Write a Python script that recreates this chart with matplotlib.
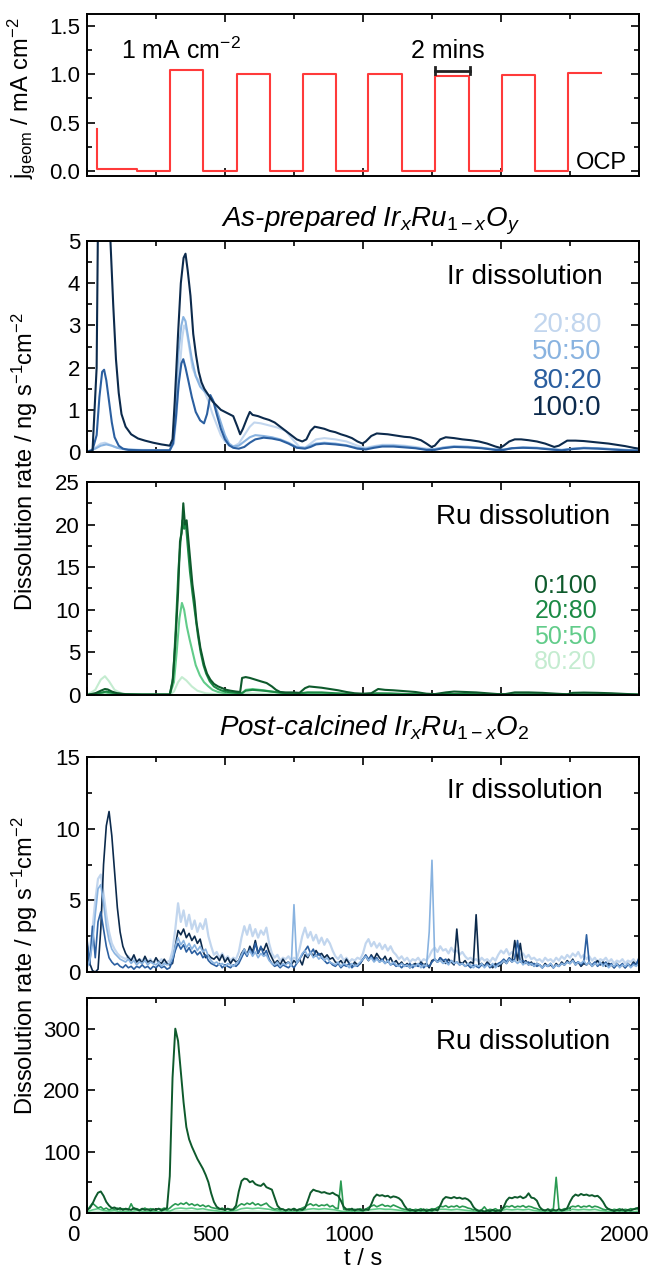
import numpy as np
import matplotlib
matplotlib.use("Agg")
import matplotlib.pyplot as plt
import matplotlib.transforms as mtransforms
from matplotlib.ticker import MultipleLocator, FormatStrFormatter

plt.rcParams['font.family'] = 'Liberation Sans'
plt.rcParams['mathtext.fontset'] = 'custom'
plt.rcParams['mathtext.rm'] = 'Liberation Sans'
plt.rcParams['mathtext.it'] = 'Liberation Sans:italic'

# ---------------- data ----------------
# current protocol (top panel)
current_t = [35, 35, 183, 299, 421, 542, 662, 781, 902, 1020, 1142, 1260, 1385, 1503, 1624, 1743, 1864]
current_j = [0.43, 0.02, 0.0, 1.04, 0.0, 1.0, 0.0, 1.0, 0.0, 1.0, 0.0, 0.98, 0.0, 0.99, 0.0, 1.01, 1.01]
scale_bar_t = [1260, 1388]

# as-prepared, Ir dissolution (ng s-1 cm-2)
ap_ir_100_t = [0, 20, 35, 42, 50, 85, 95, 105, 115, 125, 140, 160, 185, 210, 240, 270, 300, 310, 318, 330,
               340, 350, 357, 365, 375, 385, 395, 405, 415, 425, 440, 455, 470, 485, 500, 515, 530, 545, 555, 565,
               580, 590, 600, 620, 640, 660, 680, 700, 720, 740, 760, 780, 795, 810, 825, 840, 860, 880, 900, 920,
               940, 960, 980, 998, 1010, 1030, 1050, 1070, 1090, 1110, 1130, 1150, 1170, 1190, 1210, 1230, 1248, 1260, 1280, 1300,
               1330, 1360, 1390, 1420, 1450, 1480, 1497, 1510, 1530, 1550, 1573, 1600, 1630, 1660, 1693, 1710, 1740, 1770, 1800, 1830,
               1860, 1890, 1920, 1950, 1980, 2000]
ap_ir_100 = [0.0, 0.02, 2.0, 7.0, 9.0, 5.0, 3.5, 2.2, 1.4, 0.9, 0.6, 0.42, 0.32, 0.27, 0.22, 0.18, 0.15, 0.3, 1.2, 2.8,
             4.0, 4.6, 4.7, 4.3, 3.7, 2.8, 2.3, 1.9, 1.65, 1.5, 1.35, 1.2, 1.1, 1.0, 0.95, 0.9, 0.85, 0.6, 0.42, 0.55,
             0.8, 0.95, 0.88, 0.85, 0.8, 0.76, 0.7, 0.6, 0.5, 0.4, 0.3, 0.25, 0.3, 0.5, 0.6, 0.58, 0.55, 0.5, 0.47, 0.42,
             0.38, 0.33, 0.25, 0.2, 0.25, 0.38, 0.44, 0.43, 0.42, 0.4, 0.38, 0.36, 0.35, 0.32, 0.28, 0.2, 0.12, 0.15, 0.3, 0.35,
             0.33, 0.3, 0.28, 0.25, 0.2, 0.13, 0.1, 0.15, 0.25, 0.3, 0.3, 0.28, 0.25, 0.2, 0.12, 0.15, 0.27, 0.27, 0.26, 0.24,
             0.22, 0.2, 0.17, 0.14, 0.1, 0.08]
ap_ir_80_t = [0, 20, 35, 45, 55, 62, 70, 80, 90, 100, 115, 130, 150, 200, 250, 300, 312, 322, 332, 342,
              349, 357, 367, 380, 394, 410, 424, 435, 447, 458, 470, 485, 500, 515, 530, 550, 570, 590, 610, 640,
              670, 700, 730, 760, 790, 810, 830, 860, 900, 940, 980, 1010, 1040, 1070, 1110, 1150, 1190, 1230, 1260, 1290,
              1330, 1380, 1430, 1480, 1510, 1540, 1580, 1630, 1680, 1720, 1760, 1800, 1850, 1900, 1950, 2000]
ap_ir_80 = [0.0, 0.05, 0.4, 1.3, 1.9, 1.95, 1.7, 1.2, 0.7, 0.35, 0.15, 0.08, 0.05, 0.04, 0.04, 0.04, 0.2, 0.8, 1.6, 2.1,
            2.2, 2.0, 1.7, 1.3, 0.95, 0.75, 0.68, 0.9, 1.35, 1.2, 0.9, 0.55, 0.3, 0.16, 0.1, 0.08, 0.12, 0.22, 0.3, 0.34,
            0.32, 0.28, 0.2, 0.1, 0.08, 0.12, 0.18, 0.2, 0.18, 0.15, 0.08, 0.06, 0.1, 0.13, 0.13, 0.11, 0.09, 0.05, 0.05, 0.09,
            0.12, 0.11, 0.09, 0.05, 0.05, 0.09, 0.1, 0.09, 0.06, 0.04, 0.07, 0.09, 0.08, 0.06, 0.04, 0.03]
ap_ir_50_t = [0, 30, 50, 70, 90, 110, 140, 200, 300, 312, 322, 332, 342, 349, 357, 367, 380, 394, 410, 424,
              440, 455, 470, 485, 500, 515, 530, 550, 570, 590, 610, 640, 670, 700, 730, 760, 790, 810, 830, 860,
              900, 940, 980, 1010, 1040, 1070, 1110, 1150, 1190, 1230, 1260, 1290, 1330, 1380, 1430, 1480, 1510, 1540, 1580, 1630,
              1680, 1720, 1760, 1800, 1850, 1900, 1950, 2000]
ap_ir_50 = [0.0, 0.08, 0.15, 0.18, 0.15, 0.1, 0.06, 0.04, 0.04, 0.3, 1.3, 2.4, 3.0, 3.2, 3.1, 2.7, 2.2, 1.8, 1.55, 1.45,
            1.35, 1.25, 1.0, 0.7, 0.4, 0.2, 0.13, 0.15, 0.25, 0.35, 0.4, 0.38, 0.35, 0.3, 0.22, 0.12, 0.1, 0.15, 0.2, 0.22,
            0.2, 0.16, 0.1, 0.08, 0.12, 0.15, 0.15, 0.13, 0.1, 0.06, 0.07, 0.1, 0.13, 0.12, 0.1, 0.06, 0.06, 0.09, 0.11, 0.1,
            0.07, 0.05, 0.08, 0.1, 0.09, 0.07, 0.05, 0.04]
ap_ir_20_t = [0, 30, 50, 65, 80, 100, 130, 200, 300, 315, 325, 335, 345, 352, 360, 370, 382, 394, 410, 425,
              440, 455, 470, 485, 500, 515, 530, 550, 570, 590, 606, 630, 660, 690, 720, 745, 770, 790, 810, 830,
              860, 900, 940, 980, 1010, 1040, 1070, 1110, 1150, 1190, 1230, 1260, 1290, 1330, 1380, 1430, 1480, 1510, 1540, 1580,
              1630, 1680, 1720, 1760, 1800, 1850, 1900, 1950, 2000]
ap_ir_20 = [0.0, 0.1, 0.2, 0.22, 0.18, 0.12, 0.07, 0.05, 0.04, 0.2, 0.9, 1.9, 2.7, 3.0, 2.9, 2.5, 2.0, 1.8, 1.65, 1.45,
            1.2, 0.9, 0.65, 0.4, 0.25, 0.15, 0.13, 0.2, 0.4, 0.6, 0.7, 0.68, 0.63, 0.58, 0.5, 0.3, 0.12, 0.1, 0.2, 0.3,
            0.33, 0.3, 0.25, 0.15, 0.1, 0.14, 0.17, 0.17, 0.15, 0.12, 0.08, 0.07, 0.11, 0.14, 0.13, 0.1, 0.06, 0.06, 0.09, 0.11,
            0.1, 0.07, 0.05, 0.08, 0.1, 0.09, 0.07, 0.05, 0.04]

# as-prepared, Ru dissolution (ng s-1 cm-2)
ap_ru_0_t = [0, 30, 50, 65, 75, 90, 110, 140, 200, 300, 310, 320, 330, 337, 343, 349, 355, 361, 368, 375,
             382, 390, 397, 404, 411, 418, 425, 435, 447, 460, 475, 490, 505, 520, 540, 555, 562, 575, 590, 610,
             630, 651, 670, 685, 700, 720, 745, 770, 790, 805, 820, 850, 880, 910, 940, 970, 1000, 1030, 1055, 1080,
             1110, 1150, 1190, 1230, 1260, 1300, 1330, 1370, 1410, 1450, 1490, 1515, 1550, 1600, 1650, 1700, 1740, 1760, 1800, 1850,
             1900, 1950, 2000]
ap_ru_0 = [0.0, 0.2, 0.5, 0.7, 0.65, 0.4, 0.2, 0.1, 0.05, 0.05, 1.5, 6.0, 12.0, 18.0, 19.0, 22.5, 20.0, 20.5, 18.0, 15.5,
           13.0, 11.0, 8.5, 7.0, 5.5, 4.5, 3.5, 2.5, 1.8, 1.3, 1.0, 0.8, 0.6, 0.5, 0.4, 0.35, 2.0, 2.1, 2.0, 1.8,
           1.6, 1.4, 1.0, 0.6, 0.35, 0.3, 0.3, 0.25, 0.8, 1.0, 0.95, 0.85, 0.7, 0.55, 0.35, 0.2, 0.15, 0.2, 0.7, 0.6,
           0.55, 0.45, 0.35, 0.15, 0.1, 0.3, 0.4, 0.35, 0.3, 0.2, 0.1, 0.1, 0.3, 0.3, 0.25, 0.15, 0.08, 0.25, 0.28, 0.25,
           0.2, 0.12, 0.05]
ap_ru_20_t = [0, 40, 70, 100, 140, 300, 312, 322, 332, 340, 346, 352, 358, 365, 373, 382, 392, 402, 412, 422,
              432, 445, 460, 475, 490, 510, 540, 560, 575, 600, 640, 680, 720, 760, 800, 850, 900, 950, 1000, 1050,
              1100, 1150, 1200, 1250, 1300, 1400, 1500, 1600, 1700, 1800, 1900, 2000]
ap_ru_20 = [0.0, 0.2, 0.4, 0.2, 0.05, 0.05, 2.0, 8.0, 15.0, 18.5, 20.5, 19.5, 20.2, 17.5, 14.5, 12.0, 9.5, 7.0, 5.0, 3.5,
            2.5, 1.6, 1.0, 0.7, 0.5, 0.35, 0.25, 0.2, 0.5, 0.6, 0.5, 0.35, 0.2, 0.15, 0.3, 0.3, 0.2, 0.12, 0.08, 0.2,
            0.18, 0.12, 0.08, 0.05, 0.12, 0.1, 0.05, 0.08, 0.06, 0.06, 0.05, 0.03]
ap_ru_50_t = [0, 40, 65, 90, 120, 200, 300, 315, 325, 335, 344, 352, 362, 372, 383, 394, 409, 424, 440, 455,
              475, 500, 530, 560, 575, 600, 640, 680, 720, 800, 850, 900, 1000, 1100, 1300, 1500, 1700, 2000]
ap_ru_50 = [0.0, 0.15, 0.3, 0.15, 0.05, 0.03, 0.03, 1.5, 5.0, 9.0, 10.8, 10.0, 8.0, 6.5, 5.0, 3.5, 2.3, 1.5, 1.0, 0.6,
            0.35, 0.2, 0.1, 0.1, 0.6, 0.7, 0.55, 0.35, 0.15, 0.25, 0.2, 0.15, 0.1, 0.12, 0.08, 0.06, 0.05, 0.03]
ap_ru_80_t = [0, 30, 50, 65, 80, 100, 130, 200, 300, 315, 330, 344, 360, 380, 400, 430, 470, 520, 580, 640,
              700, 800, 1000, 1500, 2000]
ap_ru_80 = [0.0, 0.6, 1.8, 2.2, 1.6, 0.6, 0.1, 0.02, 0.02, 0.4, 1.5, 2.1, 1.7, 1.0, 0.5, 0.2, 0.08, 0.05, 0.2, 0.15,
            0.05, 0.05, 0.03, 0.02, 0.02]

# post-calcined series, sampled every 10 s (pg s-1 cm-2)
t10 = np.arange(0, 2001, 10)
pc_ir_100 = [2.0, 0.6, 0.1, 0.0, 0.2, 3.0, 7.5, 10.2, 11.2, 9.5,
             7.0, 4.5, 2.8, 1.8, 1.3, 1.0, 0.8, 1.2, 0.7, 0.9,
             0.6, 1.1, 0.7, 0.8, 0.6, 1.0, 0.7, 0.6, 0.9, 0.6,
             0.5, 0.6, 1.8, 2.9, 2.6, 3.0, 2.4, 2.7, 2.2, 2.5,
             2.0, 2.3, 1.5, 1.0, 1.2, 1.0, 0.9, 1.1, 0.8, 1.2,
             0.7, 1.0, 0.6, 0.9, 0.7, 0.8, 1.3, 1.6, 1.2, 1.8,
             1.4, 2.2, 1.3, 1.7, 1.5, 2.0, 1.4, 1.0, 0.6, 0.8,
             0.5, 0.9, 0.6, 0.7, 0.5, 0.8, 0.6, 0.9, 0.5, 1.2,
             1.0, 1.4, 1.1, 1.5, 1.2, 1.3, 1.0, 1.2, 0.9, 1.0,
             0.7, 0.6, 0.8, 0.5, 0.9, 0.6, 0.4, 0.7, 0.5, 0.6,
             0.9, 1.1, 0.8, 1.2, 0.9, 1.3, 1.0, 0.8, 1.1, 0.7,
             1.0, 0.6, 0.8, 0.5, 0.7, 0.4, 0.6, 0.3, 0.5, 0.6,
             0.4, 0.7, 0.5, 0.6, 0.3, 0.8, 0.9, 0.7, 1.0, 0.8,
             0.6, 0.9, 0.7, 0.5, 3.0, 0.7, 0.6, 0.8, 0.5, 0.7,
             0.6, 4.0, 0.5, 0.6, 0.4, 0.7, 0.5, 0.3, 0.6, 0.4,
             0.5, 0.8, 0.6, 0.9, 0.7, 2.2, 0.8, 2.0, 0.6, 0.8,
             0.5, 0.7, 0.4, 0.6, 0.5, 0.3, 0.6, 0.4, 0.5, 0.3,
             0.6, 0.4, 0.7, 0.5, 0.8, 0.6, 0.9, 0.5, 0.7, 0.4,
             0.6, 0.5, 0.7, 0.4, 0.6, 0.8, 0.5, 0.7, 0.4, 0.6,
             0.5, 0.3, 0.6, 0.4, 0.5, 0.3, 0.6, 0.4, 0.7, 0.5,
             0.9]
pc_ir_80 = [2.3, 0.5, 3.2, 1.0, 3.5, 4.2, 3.0, 1.8, 1.0, 0.7,
            0.5, 0.6, 0.4, 0.3, 0.5, 0.3, 0.4, 0.2, 0.4, 0.3,
            0.5, 0.3, 0.4, 0.2, 0.4, 0.3, 0.5, 0.3, 0.4, 0.2,
            0.3, 0.8, 1.5, 2.0, 1.6, 1.9, 1.4, 1.7, 1.3, 1.5,
            1.2, 1.4, 1.0, 1.2, 0.8, 0.6, 0.5, 0.4, 0.6, 0.3,
            0.5, 0.4, 0.3, 0.5, 0.4, 0.6, 1.0, 1.4, 1.1, 1.6,
            1.2, 2.0, 1.3, 1.8, 1.2, 1.5, 0.9, 0.6, 0.4, 0.5,
            0.3, 0.5, 0.4, 0.3, 0.5, 0.3, 0.6, 0.9, 1.2, 1.5,
            1.8, 1.3, 1.6, 1.1, 1.3, 1.0, 0.8, 0.6, 0.7, 0.5,
            0.4, 0.6, 0.3, 0.5, 0.4, 0.6, 0.3, 0.5, 0.4, 0.6,
            0.9, 1.2, 0.9, 1.1, 0.8, 1.0, 0.7, 0.9, 0.6, 0.8,
            0.5, 0.6, 0.4, 0.5, 0.3, 0.5, 0.4, 0.6, 0.3, 0.5,
            0.4, 0.6, 0.3, 0.5, 0.4, 0.7, 0.9, 0.7, 1.0, 0.8,
            0.9, 0.6, 0.8, 0.6, 0.7, 0.5, 0.6, 0.4, 0.5, 0.3,
            0.5, 0.4, 0.3, 0.5, 0.4, 0.6, 0.3, 0.5, 0.4, 0.6,
            0.7, 0.9, 0.7, 1.0, 0.8, 0.9, 2.2, 0.7, 0.8, 0.6,
            0.7, 0.5, 0.6, 0.4, 0.5, 0.3, 0.5, 0.4, 0.6, 0.3,
            0.5, 0.4, 0.6, 0.5, 0.7, 0.6, 0.8, 0.6, 0.7, 0.5,
            0.7, 2.6, 0.6, 0.5, 0.7, 0.4, 0.6, 0.5, 0.7, 0.4,
            0.6, 0.3, 0.5, 0.4, 0.6, 0.3, 0.5, 0.4, 0.6, 0.5,
            1.0]
pc_ir_50 = [0.3, 0.8, 2.0, 4.0, 5.8, 6.1, 4.8, 3.2, 2.2, 1.6,
            1.3, 1.1, 0.9, 0.8, 0.7, 0.9, 0.6, 0.8, 0.5, 0.7,
            0.6, 0.8, 0.5, 0.7, 0.6, 0.5, 0.7, 0.4, 0.6, 0.5,
            0.6, 1.0, 1.8, 2.4, 1.9, 2.2, 1.7, 2.0, 1.6, 1.9,
            1.5, 1.8, 1.4, 1.6, 1.1, 0.8, 0.6, 0.7, 0.5, 0.6,
            0.4, 0.6, 0.5, 0.4, 0.6, 0.8, 1.2, 1.6, 1.2, 1.5,
            1.1, 1.4, 1.0, 1.3, 1.1, 1.2, 0.8, 0.6, 0.5, 0.7,
            0.4, 0.6, 0.5, 0.7, 0.4, 4.7, 0.6, 0.9, 1.3, 1.5,
            1.1, 1.4, 1.0, 1.2, 0.9, 1.1, 0.8, 1.0, 0.7, 0.6,
            0.5, 0.7, 0.4, 0.6, 0.5, 0.3, 0.6, 0.4, 0.5, 0.7,
            0.9, 1.1, 0.8, 1.0, 0.7, 0.9, 0.7, 0.8, 0.6, 0.8,
            0.5, 0.7, 0.5, 0.4, 0.6, 0.4, 0.5, 0.3, 0.5, 0.4,
            0.6, 0.3, 0.5, 0.4, 2.8, 7.8, 0.9, 0.7, 0.8, 0.6,
            0.7, 0.5, 0.8, 0.6, 0.7, 0.5, 0.6, 0.4, 0.6, 0.5,
            0.3, 0.5, 0.4, 0.6, 0.3, 0.5, 0.4, 0.6, 0.3, 0.5,
            0.6, 0.8, 0.6, 0.9, 0.7, 0.8, 0.6, 0.8, 0.5, 0.7,
            0.5, 0.6, 0.4, 0.6, 0.5, 0.3, 0.5, 0.4, 0.6, 0.3,
            0.5, 0.4, 0.6, 0.5, 0.7, 0.6, 0.8, 0.5, 0.7, 0.6,
            0.8, 0.5, 0.7, 0.4, 0.6, 0.5, 0.7, 0.4, 0.6, 0.3,
            0.5, 0.4, 0.6, 0.3, 0.5, 0.4, 0.6, 0.3, 0.5, 0.4,
            0.6]
pc_ir_20 = [0.5, 1.5, 3.0, 5.0, 6.5, 6.8, 5.5, 4.0, 2.8, 2.0,
            1.6, 1.3, 1.1, 1.0, 0.9, 1.1, 0.8, 1.0, 0.7, 0.9,
            0.8, 1.0, 0.7, 0.9, 0.6, 0.8, 0.7, 0.9, 0.6, 0.7,
            0.8, 1.5, 3.0, 4.8, 3.5, 4.3, 3.2, 4.0, 3.0, 3.6,
            2.8, 3.4, 3.0, 3.7, 2.5, 1.8, 1.2, 1.4, 1.0, 1.3,
            0.9, 1.1, 0.8, 1.0, 0.9, 1.4, 2.4, 3.2, 2.6, 3.3,
            2.5, 3.0, 2.4, 2.9, 2.6, 3.1, 2.0, 1.3, 1.0, 1.2,
            0.8, 1.0, 0.9, 1.1, 0.8, 1.0, 0.9, 1.6, 2.5, 3.1,
            2.4, 2.8, 2.2, 2.6, 2.0, 2.4, 1.9, 2.3, 2.0, 1.5,
            1.1, 0.9, 1.2, 0.8, 1.0, 0.7, 0.9, 0.8, 1.0, 0.9,
            1.3, 2.0, 2.3, 1.8, 2.1, 1.7, 2.0, 1.6, 1.9, 1.5,
            1.8, 1.4, 1.2, 0.9, 1.1, 0.8, 1.0, 0.7, 0.9, 0.8,
            1.0, 0.7, 0.9, 0.8, 1.1, 1.5, 1.7, 1.4, 1.8, 1.5,
            1.6, 1.3, 1.7, 1.4, 1.5, 1.2, 1.4, 1.1, 0.9, 1.0,
            0.8, 0.9, 0.7, 1.0, 0.8, 0.9, 0.7, 1.0, 0.8, 1.2,
            1.5, 1.3, 1.6, 1.2, 1.4, 1.1, 1.5, 1.2, 1.3, 1.0,
            1.2, 0.9, 1.0, 0.8, 0.9, 0.7, 1.0, 0.8, 0.9, 0.7,
            1.0, 0.8, 1.1, 0.9, 1.2, 1.0, 1.3, 1.1, 1.4, 1.0,
            1.2, 0.9, 1.1, 0.8, 1.0, 0.7, 0.9, 0.8, 1.0, 0.7,
            0.9, 0.6, 0.8, 0.7, 0.9, 0.6, 0.8, 0.7, 0.9, 0.6,
            0.8]

pc_ru_0 = [5, 8, 15, 25, 33, 35, 28, 18, 12, 8,
           9, 6, 8, 5, 7, 6, 5, 8, 6, 4,
           7, 5, 6, 4, 6, 5, 7, 4, 6, 8,
           60, 220, 300, 280, 230, 180, 140, 120, 108, 98,
           88, 80, 72, 62, 50, 32, 18, 10, 7, 6,
           5, 7, 5, 6, 12, 35, 52, 56, 55, 50,
           52, 47, 45, 44, 48, 42, 40, 38, 25, 12,
           7, 6, 4, 6, 5, 7, 4, 6, 5, 8,
           20, 33, 38, 36, 35, 33, 34, 32, 31, 33,
           30, 28, 20, 10, 6, 5, 7, 4, 6, 5,
           4, 6, 5, 14, 25, 30, 28, 29, 27, 28,
           25, 27, 26, 24, 20, 12, 6, 4, 5, 3,
           5, 4, 6, 3, 5, 4, 6, 4, 12, 22,
           26, 25, 24, 26, 24, 25, 23, 24, 22, 18,
           10, 5, 3, 4, 2, 4, 3, 5, 3, 4,
           3, 10, 20, 25, 24, 26, 25, 27, 24, 26,
           32, 25, 24, 20, 10, 5, 4, 6, 3, 5,
           4, 6, 4, 5, 8, 18, 26, 30, 28, 31,
           29, 30, 28, 29, 27, 28, 24, 18, 10, 6,
           5, 3, 5, 4, 6, 3, 5, 4, 6, 7,
           9]
pc_ru_20 = [3, 10, 16, 12, 8, 10, 6, 8, 5, 7,
            6, 8, 5, 7, 6, 5, 15, 6, 7, 5,
            6, 8, 5, 7, 6, 5, 7, 6, 8, 5,
            8, 12, 15, 13, 16, 14, 17, 13, 15, 12,
            14, 11, 13, 10, 12, 9, 8, 7, 6, 8,
            5, 7, 6, 5, 8, 12, 15, 13, 16, 14,
            17, 13, 15, 12, 14, 16, 11, 8, 6, 7,
            5, 6, 4, 6, 5, 7, 5, 6, 8, 10,
            13, 15, 12, 14, 11, 13, 12, 14, 10, 12,
            8, 7, 52, 6, 5, 7, 4, 6, 5, 7,
            5, 6, 9, 11, 13, 10, 12, 14, 11, 12,
            10, 13, 11, 9, 7, 6, 5, 7, 4, 6,
            5, 7, 4, 6, 5, 7, 6, 9, 11, 10,
            12, 9, 11, 10, 12, 9, 11, 10, 8, 7,
            5, 6, 4, 5, 10, 4, 6, 5, 7, 4,
            6, 8, 11, 10, 12, 9, 11, 10, 12, 9,
            11, 10, 8, 7, 5, 6, 4, 6, 5, 7,
            58, 6, 5, 7, 6, 9, 11, 10, 12, 9,
            11, 10, 12, 9, 11, 10, 8, 6, 5, 7,
            4, 6, 5, 7, 4, 6, 5, 7, 6, 8,
            5]
t20 = np.arange(0, 2001, 20)
pc_ru_50 = [2, 5, 7, 4, 3, 4, 2, 3, 2, 4,
            3, 2, 3, 2, 4, 3, 7, 8, 7, 8,
            6, 7, 5, 4, 3, 2, 3, 4, 7, 8,
            7, 8, 7, 6, 4, 3, 2, 3, 2, 4,
            6, 7, 6, 7, 6, 5, 3, 2, 3, 2,
            3, 5, 6, 7, 6, 6, 5, 4, 2, 3,
            2, 3, 2, 4, 6, 6, 5, 6, 5, 4,
            3, 2, 3, 2, 3, 4, 6, 5, 6, 5,
            6, 4, 3, 2, 3, 2, 3, 4, 6, 5,
            6, 5, 6, 4, 3, 2, 3, 2, 3, 2,
            3]
t40 = np.arange(0, 2001, 40)
pc_ru_80 = [1, 3, 1.5, 1, 1.5, 1, 1.2, 1, 3, 3.5,
            3, 2.5, 1.5, 1, 2.5, 3, 2.5, 1.5, 1, 1.2,
            2.5, 2.8, 2.5, 1.5, 1, 1.2, 2.5, 2.8, 2.2, 1,
            1, 1.2, 2.2, 2.5, 2.3, 1.2, 1, 1, 2.2, 2.4,
            2.2, 1.2, 1, 1, 2.2, 2.5, 2.3, 1.2, 1, 1,
            1.2]

ir_labels = ['20:80', '50:50', '80:20', '100:0']
ir_colors = ['#c2d6ee', '#89b3e0', '#2b5fa0', '#0c2a4c']
ru_labels = ['0:100', '20:80', '50:50', '80:20']
ru_colors = ['#0e5a2c', '#1b8a45', '#62cc8a', '#c4ecd0']

# ---------------- figure ----------------
fig = plt.figure(figsize=(6.54, 12.74), dpi=100)
L, W = 0.133, 0.844
ax1 = fig.add_axes([L, 0.8619, W, 0.1272])
ax2 = fig.add_axes([L, 0.6452, W, 0.1656])
ax3 = fig.add_axes([L, 0.4545, W, 0.1672])
ax4 = fig.add_axes([L, 0.2370, W, 0.1688])
ax5 = fig.add_axes([L, 0.0479, W, 0.1688])
axes = [ax1, ax2, ax3, ax4, ax5]

for ax in axes:
    ax.set_xlim(0, 2000)
    ax.xaxis.set_major_locator(MultipleLocator(500))
    ax.xaxis.set_minor_locator(MultipleLocator(250))
    ax.tick_params(which='both', direction='in', top=True, right=True, width=1.2, labelsize=16)
    ax.tick_params(which='major', length=6)
    ax.tick_params(which='minor', length=3.5)
    ax.tick_params(axis='y', pad=5)
    ax.tick_params(axis='x', pad=9)
    for s in ax.spines.values():
        s.set_linewidth(1.4)
    if ax is not ax5:
        ax.tick_params(labelbottom=False)

# panel 1: current
ax1.plot(current_t, current_j, drawstyle='steps-post', color='#ff3a3a', lw=1.5)
ax1.set_ylim(-0.05, 1.62)
ax1.yaxis.set_major_locator(MultipleLocator(0.5))
ax1.yaxis.set_minor_locator(MultipleLocator(0.25))
ax1.yaxis.set_major_formatter(FormatStrFormatter('%.1f'))
ax1.plot(scale_bar_t, [1.035, 1.035], color='#222222', lw=2)
for tb in scale_bar_t:
    ax1.plot([tb, tb], [1.0, 1.07], color='#222222', lw=2)
ax1.text(341, 1.24, '1 mA cm$^{-2}$', ha='center', va='center', fontsize=18)
ax1.text(1308, 1.24, '2 mins', ha='center', va='center', fontsize=18)
ax1.text(1955, 0.08, 'OCP', ha='right', va='center', fontsize=17)

# panel 2: as-prepared Ir
for t, v, c in zip([ap_ir_20_t, ap_ir_50_t, ap_ir_80_t, ap_ir_100_t],
                   [ap_ir_20, ap_ir_50, ap_ir_80, ap_ir_100], ir_colors):
    ax2.plot(t, v, color=c, lw=1.5)
ax2.set_ylim(0, 5)
ax2.yaxis.set_major_locator(MultipleLocator(1))
ax2.yaxis.set_minor_locator(MultipleLocator(0.5))
ax2.text(1870, 4.14, 'Ir dissolution', ha='right', va='center', fontsize=20)
for lab, c, y in zip(ir_labels, ir_colors, [3.0, 2.36, 1.69, 1.05]):
    ax2.text(1866, y, lab, ha='right', va='center', fontsize=20, color=c)

# panel 3: as-prepared Ru
for t, v, c in zip([ap_ru_80_t, ap_ru_50_t, ap_ru_20_t, ap_ru_0_t],
                   [ap_ru_80, ap_ru_50, ap_ru_20, ap_ru_0], ru_colors[::-1]):
    ax3.plot(t, v, color=c, lw=1.5)
ax3.set_ylim(0, 25)
ax3.yaxis.set_major_locator(MultipleLocator(5))
ax3.yaxis.set_minor_locator(MultipleLocator(2.5))
ax3.text(1895, 20.9, 'Ru dissolution', ha='right', va='center', fontsize=20)
for lab, c, y in zip(ru_labels, ru_colors, [12.8, 9.8, 6.8, 3.9]):
    ax3.text(1848, y, lab, ha='right', va='center', fontsize=18, color=c)

# panel 4: post-calcined Ir
ax4.plot(t10, pc_ir_20, color=ir_colors[0], lw=1.6)
ax4.plot(t10, pc_ir_100, color=ir_colors[3], lw=1.2)
ax4.plot(t10, pc_ir_80, color=ir_colors[2], lw=1.2)
ax4.plot(t10, pc_ir_50, color=ir_colors[1], lw=1.2)
ax4.set_ylim(0, 15)
ax4.yaxis.set_major_locator(MultipleLocator(5))
ax4.yaxis.set_minor_locator(MultipleLocator(2.5))
ax4.text(1870, 12.6, 'Ir dissolution', ha='right', va='center', fontsize=20)

# panel 5: post-calcined Ru
ax5.plot(t40, pc_ru_80, color=ru_colors[3], lw=1.2)
ax5.plot(t20, pc_ru_50, color=ru_colors[2], lw=1.2)
ax5.plot(t10, pc_ru_20, color='#2a9a52', lw=1.2)
ax5.plot(t10, pc_ru_0, color=ru_colors[0], lw=1.4)
ax5.set_ylim(0, 350)
ax5.yaxis.set_major_locator(MultipleLocator(100))
ax5.yaxis.set_minor_locator(MultipleLocator(50))
ax5.text(1895, 278, 'Ru dissolution', ha='right', va='center', fontsize=20)

# x tick labels sit slightly left of their ticks in the original
shift = mtransforms.ScaledTranslation(-0.14, 0, fig.dpi_scale_trans)
for lab in ax5.get_xticklabels():
    lab.set_transform(lab.get_transform() + shift)

# titles and axis labels
fig.text(0.566, 0.8265, 'As-prepared Ir$_{\\mathit{x}}$Ru$_{\\mathit{1-x}}$O$_{\\mathit{y}}$',
         ha='center', va='center', fontsize=20, fontstyle='italic')
fig.text(0.573, 0.4286, 'Post-calcined Ir$_{\\mathit{x}}$Ru$_{\\mathit{1-x}}$O$_{\\mathit{2}}$',
         ha='center', va='center', fontsize=20, fontstyle='italic')
fig.text(0.032, 0.923, 'j$_{\\mathrm{geom}}$ / mA cm$^{-2}$', rotation=90,
         ha='center', va='center', fontsize=17)
fig.text(0.038, 0.6374, 'Dissolution rate / ng s$^{-1}$cm$^{-2}$', rotation=90,
         ha='center', va='center', fontsize=17)
fig.text(0.038, 0.2418, 'Dissolution rate / pg s$^{-1}$cm$^{-2}$', rotation=90,
         ha='center', va='center', fontsize=17)
fig.text(0.556, 0.003, 't / s', ha='center', va='bottom', fontsize=17)

fig.savefig('out.png', dpi=100, facecolor='white')
